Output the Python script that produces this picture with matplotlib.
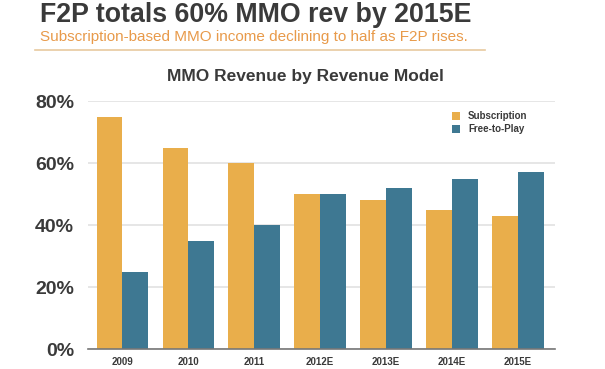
import numpy as np
from matplotlib import pyplot as plt

plt.rcParams['font.family'] = ['Liberation Sans', 'DejaVu Sans']

years = ["2009", "2010", "2011", "2012E", "2013E", "2014E", "2015E"]
subscription = [75, 65, 60, 50, 48, 45, 43]
free_to_play = [25, 35, 40, 50, 52, 55, 57]

sub_color = "#E9AE4B"
f2p_color = "#3E7892"
dark = "#3a3a3a"

fig = plt.figure(figsize=(6.05, 3.69), dpi=100)

# headline + subtitle + rule
fig.text(40 / 605, 1 - 15 / 369, "F2P totals 60% MMO rev by 2015E", fontsize=19.3,
         fontweight="bold", color=dark, va="center", ha="left")
fig.text(40 / 605, 1 - 37 / 369, "Subscription-based MMO income declining to half as F2P rises.",
         fontsize=11, color="#E89A4A", va="center", ha="left")
fig.add_artist(plt.Line2D([35 / 605, 485 / 605], [1 - 50 / 369, 1 - 50 / 369],
                          color="#E8C9A0", lw=1.2))

ax = fig.add_axes([88 / 605, 1 - 349 / 369, 467 / 605, 248 / 369])
x = np.arange(len(years))
w = 0.39
ax.bar(x - w / 2, subscription, w, color=sub_color, label="Subscription", zorder=3)
ax.bar(x + w / 2, free_to_play, w, color=f2p_color, label="Free-to-Play", zorder=3)

ax.set_xlim(-0.52, 6.56)
ax.set_ylim(0, 80)
ax.set_yticks([0, 20, 40, 60, 80])
ax.set_yticklabels(["0%", "20%", "40%", "60%", "80%"])
ax.yaxis.grid(True, color="#e2e2e2", lw=1.2, zorder=0)
ax.set_xticks(x)
ax.set_xticklabels(years)
ax.tick_params(axis="y", length=0, labelsize=14, labelcolor=dark, pad=10)
ax.tick_params(axis="x", length=0, labelsize=7, labelcolor=dark, pad=6)
for lab in ax.get_yticklabels() + ax.get_xticklabels():
    lab.set_fontweight("bold")
for s in ["top", "right", "left"]:
    ax.spines[s].set_visible(False)
ax.spines["bottom"].set_color("#777777")
ax.spines["bottom"].set_linewidth(1.2)
ax.spines["bottom"].set_zorder(4)

fig.text(305 / 605, 1 - 77 / 369, "MMO Revenue by Revenue Model", fontsize=12.5,
         fontweight="bold", color=dark, ha="center", va="center")

leg = ax.legend(loc="upper right", bbox_to_anchor=(0.96, 0.995), frameon=False,
                fontsize=7, handlelength=0.9, handleheight=0.9, handletextpad=0.8,
                labelspacing=0.3)
for t in leg.get_texts():
    t.set_fontweight("bold")
    t.set_color(dark)

plt.savefig("out.png", dpi=100)
